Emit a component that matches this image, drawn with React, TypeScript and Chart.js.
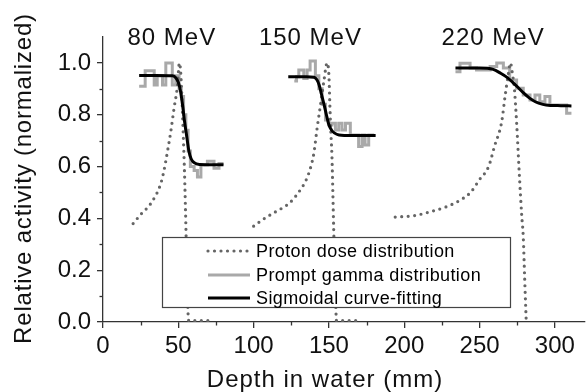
import React, { useEffect, useRef } from 'react';
import { Chart, registerables } from 'chart.js';

Chart.register(...registerables);

const FONT = "'Liberation Sans', Arial, sans-serif";

const xTicks = [0, 50, 100, 150, 200, 250, 300];
const xMinorTicks = [25, 75, 125, 175, 225, 275];
const yTicks = [0, 0.2, 0.4, 0.6, 0.8, 1.0];
const yMinorTicks = [0.1, 0.3, 0.5, 0.7, 0.9];

const xTitle = 'Depth in water (mm)';
const yTitle = 'Relative activity (normalized)';

const energyLabels = ['80 MeV', '150 MeV', '220 MeV'];
const energyLabelX = [45.7, 137.7, 259];
const energyLabelY = [1.07, 1.07, 1.07];

const seriesLabels = ['Proton dose distribution', 'Prompt gamma distribution', 'Sigmoidal curve-fitting'];

// Proton dose (dotted)
const dose80 = [[20, 0.38], [25, 0.415], [31.8, 0.458], [38.4, 0.535], [40.5, 0.585], [42.8, 0.658], [45, 0.735], [47.2, 0.826], [49.5, 0.915], [50.7, 1.0], [51.5, 0.97], [52.5, 0.85], [53.3, 0.72], [54, 0.6], [54.7, 0.45], [55.3, 0.3], [55.9, 0.15], [56.5, 0.03], [57, 0.005], [73, 0.005]];
const dose150 = [[100, 0.37], [106, 0.395], [113, 0.42], [119, 0.44], [124, 0.46], [131, 0.51], [135, 0.55], [138, 0.6], [140, 0.652], [142.2, 0.75], [144.4, 0.838], [146.6, 0.928], [148.8, 1.0], [150, 0.95], [150.6, 0.84], [151.3, 0.73], [152, 0.64], [152.6, 0.5], [153.2, 0.35], [153.9, 0.2], [154.5, 0.07], [155, 0.005], [171, 0.005]];
const dose220 = [[194, 0.405], [206, 0.41], [217, 0.425], [228, 0.445], [237, 0.47], [244, 0.5], [250, 0.55], [256, 0.6], [260, 0.68], [264.7, 0.773], [266.9, 0.87], [269, 0.954], [270.5, 1.0], [272, 0.95], [273, 0.91], [274.6, 0.77], [276.4, 0.57], [278, 0.41], [279, 0.33], [280, 0.16], [281, 0.0]];

// Prompt gamma (grey, stepped)
const gamma80 = [[24, 0.91], [28, 0.97], [34, 0.915], [36, 0.95], [39.5, 0.915], [41.7, 1.0], [46, 0.915], [48.3, 0.95], [50.5, 0.9], [52, 0.87], [53.5, 0.8], [55, 0.74], [56.5, 0.66], [58, 0.6], [60.5, 0.585], [62.7, 0.56], [65, 0.607], [69.3, 0.62], [73.7, 0.593], [77, 0.612], [80, 0.612]];
const gamma150 = [[127, 0.93], [128.5, 0.947], [130, 0.973], [133.3, 0.94], [135.5, 0.973], [137.5, 1.007], [141, 0.95], [143.3, 0.9], [145.5, 0.84], [147.7, 0.78], [150, 0.76], [152, 0.767], [154.3, 0.741], [156.5, 0.767], [158.7, 0.741], [161, 0.767], [164.2, 0.722], [169.7, 0.677], [172, 0.722], [174, 0.683], [176.4, 0.722], [180, 0.722]];
const gamma220 = [[234, 0.966], [237, 0.999], [243.7, 0.98], [248, 0.973], [257, 0.986], [261.4, 1.0], [265.8, 0.98], [270, 0.934], [274.6, 0.902], [279, 0.876], [283.5, 0.857], [286.8, 0.876], [290, 0.85], [293.4, 0.87], [296.7, 0.838], [304.5, 0.838], [307.8, 0.806], [311, 0.806]];

// Sigmoidal fits (black)
const fit80 = [[24, 0.951], [35, 0.951], [46, 0.95], [48, 0.945], [50, 0.925], [51.5, 0.89], [53, 0.83], [54, 0.78], [55.5, 0.72], [57, 0.66], [58.5, 0.63], [60.5, 0.615], [64, 0.608], [72, 0.607], [80, 0.607]];
const fit150 = [[123, 0.947], [135, 0.947], [140, 0.945], [142, 0.935], [143.5, 0.915], [145, 0.88], [146.8, 0.838], [148.5, 0.795], [150, 0.76], [151.8, 0.74], [153.5, 0.73], [156.7, 0.722], [165, 0.72], [181, 0.72]];
const fit220 = [[234, 0.98], [250, 0.98], [259, 0.975], [264, 0.96], [268, 0.945], [272, 0.925], [275.6, 0.905], [279, 0.885], [283, 0.865], [287, 0.85], [292, 0.84], [297, 0.836], [304, 0.835], [311, 0.834]];

function join(...segs: number[][][]) {
  const out: { x: number; y: number | null }[] = [];
  segs.forEach((s, i) => {
    if (i > 0) out.push({ x: s[0][0], y: null });
    s.forEach(([x, y]) => out.push({ x, y }));
  });
  return out;
}

const DOSE_COLOR = '#656565';
const GAMMA_COLOR = '#a9a9a9';
const FIT_COLOR = '#000000';
const TEXT_COLOR = '#111111';
const AXIS_COLOR = '#333333';

const styles = [
  { color: DOSE_COLOR, width: 3.2, dash: [0, 6.5], cap: 'round' as CanvasLineCap },
  { color: GAMMA_COLOR, width: 3, dash: [] as number[], cap: 'butt' as CanvasLineCap },
  { color: FIT_COLOR, width: 3, dash: [] as number[], cap: 'butt' as CanvasLineCap },
];

const decorPlugin = {
  id: 'decor',
  afterDraw(chart: any) {
    const { ctx, scales, chartArea } = chart;
    const xs = scales.x, ys = scales.y;
    ctx.save();
    ctx.strokeStyle = AXIS_COLOR;
    ctx.lineWidth = 1.3;
    xMinorTicks.forEach((v) => {
      const px = Math.round(xs.getPixelForValue(v)) + 0.5;
      ctx.beginPath();
      ctx.moveTo(px, ys.bottom);
      ctx.lineTo(px, ys.bottom + 3.5);
      ctx.stroke();
    });
    yMinorTicks.forEach((v) => {
      const py = Math.round(ys.getPixelForValue(v)) + 0.5;
      ctx.beginPath();
      ctx.moveTo(xs.left, py);
      ctx.lineTo(xs.left - 3.5, py);
      ctx.stroke();
    });
    ctx.fillStyle = TEXT_COLOR;
    (ctx as any).letterSpacing = '1px';
    // energy labels
    ctx.font = `24px ${FONT}`;
    ctx.textAlign = 'center';
    ctx.textBaseline = 'alphabetic';
    energyLabels.forEach((t, i) => {
      ctx.fillText(t, xs.getPixelForValue(energyLabelX[i]), ys.getPixelForValue(energyLabelY[i]));
    });
    // x title
    ctx.fillText(xTitle, 325, 387);
    // y title
    (ctx as any).letterSpacing = '0.8px';
    ctx.translate(24, (chartArea.top + chartArea.bottom) / 2 - 1);
    ctx.rotate(-Math.PI / 2);
    ctx.textBaseline = 'middle';
    ctx.fillText(yTitle, 0, 0);
    ctx.restore();
  },
  afterDatasetsDraw(chart: any) {
    const { ctx } = chart;
    const box = { left: 162, top: 237, right: 510, bottom: 307 };
    ctx.save();
    ctx.fillStyle = '#ffffff';
    ctx.fillRect(box.left, box.top, box.right - box.left, box.bottom - box.top);
    ctx.strokeStyle = '#444444';
    ctx.lineWidth = 1.2;
    ctx.strokeRect(box.left + 0.5, box.top + 0.5, box.right - box.left, box.bottom - box.top);
    const rows = [251, 275, 298];
    seriesLabels.forEach((t, i) => {
      const s = styles[i];
      ctx.strokeStyle = s.color;
      ctx.lineWidth = s.width;
      ctx.setLineDash(s.dash);
      ctx.lineCap = s.cap;
      ctx.beginPath();
      ctx.moveTo(208, rows[i]);
      ctx.lineTo(250, rows[i]);
      ctx.stroke();
      ctx.setLineDash([]);
      ctx.fillStyle = '#000000';
      ctx.font = `18px ${FONT}`;
      (ctx as any).letterSpacing = '0.4px';
      ctx.textAlign = 'left';
      ctx.textBaseline = 'middle';
      ctx.fillText(t, 256, rows[i] + 1);
    });
    ctx.restore();
  },
};

export default function App() {
  const ref = useRef<HTMLCanvasElement>(null);
  useEffect(() => {
    if (!ref.current) return;
    const chart = new Chart(ref.current, {
      type: 'line',
      data: {
        datasets: [
          {
            label: seriesLabels[2],
            data: join(fit80, fit150, fit220),
            borderColor: FIT_COLOR,
            borderWidth: 3,
            pointRadius: 0,
            cubicInterpolationMode: 'monotone',
            order: 0,
          },
          {
            label: seriesLabels[0],
            data: join(dose80, dose150, dose220),
            borderColor: DOSE_COLOR,
            borderWidth: 3.2,
            borderDash: [0, 6.5],
            borderCapStyle: 'round',
            pointRadius: 0,
            cubicInterpolationMode: 'monotone',
            order: 1,
          },
          {
            label: seriesLabels[1],
            data: join(gamma80, gamma150, gamma220),
            borderColor: GAMMA_COLOR,
            borderWidth: 3,
            pointRadius: 0,
            stepped: 'before',
            order: 2,
          },
        ] as any,
      },
      options: {
        animation: false,
        responsive: false,
        layout: { padding: { left: 0, right: 2, top: 37, bottom: 0 } },
        plugins: { legend: { display: false }, tooltip: { enabled: false } },
        scales: {
          x: {
            type: 'linear',
            min: 0,
            max: 320,
            afterBuildTicks: (s: any) => {
              s.ticks = xTicks.map((v) => ({ value: v }));
            },
            afterFit: (s: any) => {
              s.height = 70;
            },
            ticks: { font: { family: FONT, size: 24 }, color: TEXT_COLOR, padding: 4, maxRotation: 0, autoSkip: false },
            grid: { drawOnChartArea: false, drawTicks: true, tickLength: 6, color: AXIS_COLOR, lineWidth: 1.3 },
            border: { display: true, color: AXIS_COLOR, width: 1.3 },
          },
          y: {
            type: 'linear',
            min: 0,
            max: 1.1,
            afterBuildTicks: (s: any) => {
              s.ticks = yTicks.map((v) => ({ value: v }));
            },
            afterFit: (s: any) => {
              s.width = 103;
            },
            ticks: {
              font: { family: FONT, size: 24 },
              color: TEXT_COLOR,
              padding: 6,
              callback: (v: any) => Number(v).toFixed(1),
            },
            grid: { drawOnChartArea: false, drawTicks: true, tickLength: 6, color: AXIS_COLOR, lineWidth: 1.3 },
            border: { display: true, color: AXIS_COLOR, width: 1.3 },
          },
        },
      },
      plugins: [decorPlugin],
    });
    return () => chart.destroy();
  }, []);
  return (
    <div style={{ position: 'absolute', left: 0, top: 0, width: 587, height: 392 }}>
      <canvas ref={ref} width={587} height={392} />
    </div>
  );
}
